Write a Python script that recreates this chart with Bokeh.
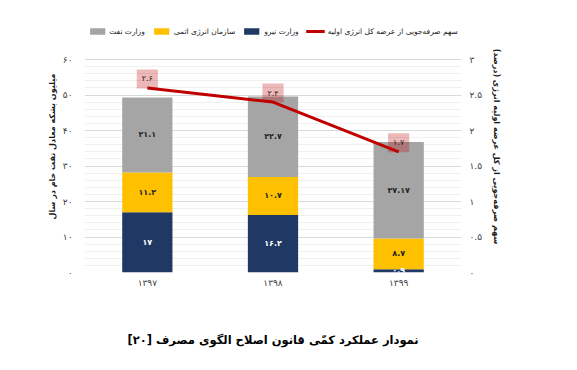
from bokeh.plotting import figure
from bokeh.models import (ColumnDataSource, LinearAxis, Range1d, FixedTicker, LabelSet,
                          Legend, LegendItem, Label)
from bokeh.core.properties import value
from bokeh.embed import file_html
from bokeh.resources import INLINE

# ---- data ----
years = ["۱۳۹۷", "۱۳۹۸", "۱۳۹۹"]
niroo = [17.0, 16.2, 0.9]          # وزارت نیرو
atomi = [11.2, 10.7, 8.7]          # سازمان انرژی اتمی
naft = [21.1, 22.7, 27.17]         # وزارت نفت
share = [2.6, 2.4, 1.7]            # سهم صرفه‌جویی
niroo_lbl = ["۱۷", "۱۶.۲", "۰.۹"]
atomi_lbl = ["۱۱.۲", "۱۰.۷", "۸.۷"]
naft_lbl = ["۲۱.۱", "۲۲.۷", "۲۷.۱۷"]
share_lbl = ["۲.۶", "۲.۴", "۱.۷"]
left_ticks = [0, 10, 20, 30, 40, 50, 60]
left_tick_lbl = ["۰", "۱۰", "۲۰", "۳۰", "۴۰", "۵۰", "۶۰"]
right_ticks = [0, 0.5, 1, 1.5, 2, 2.5, 3]
right_tick_lbl = ["۰", "۰.۵", "۱", "۱.۵", "۲", "۲.۵", "۳"]
legend_names = ["وزارت نفت", "سازمان انرژی اتمی", "وزارت نیرو",
                "سهم صرفه‌جویی از عرضه کل انرژی اولیه"]
title_text = "نمودار عملکرد کمّی قانون اصلاح الگوی مصرف [۲۰]"

FONT = "DejaVu Sans"
NAVY, YEL, GRAY, RED = "#203864", "#FFC000", "#A5A5A5", "#C00000"

# layout: frame extends above the 60-line to hold the legend
TOP, AXIS_PX = 20, 213
stretch = (AXIS_PX + 39) / AXIS_PX

xs = [1, 2, 3]
src = ColumnDataSource(dict(
    x=xs, niroo=niroo, atomi=atomi, naft=naft, share=share,
    y_n=[a / 2 for a in niroo],
    y_a=[a + b / 2 for a, b in zip(niroo, atomi)],
    y_f=[a + b + c / 2 for a, b, c in zip(niroo, atomi, naft)],
    ln=niroo_lbl, la=atomi_lbl, lf=naft_lbl, ls=share_lbl,
))

p = figure(width=561, height=354, output_backend="svg", toolbar_location=None,
           x_range=Range1d(0.5, 3.5), y_range=Range1d(0, 60 * stretch),
           min_border_left=84, min_border_right=100, min_border_top=TOP,
           min_border_bottom=82, outline_line_color=None)
p.extra_y_ranges = {"r": Range1d(0, 3 * stretch)}

bars = p.vbar_stack(["niroo", "atomi", "naft"], x="x", width=0.4, source=src,
                    color=[NAVY, YEL, GRAY], line_color=None)
ln = p.line("x", "share", source=src, y_range_name="r", line_color=RED, line_width=3)

p.xgrid.grid_line_color = None
p.ygrid.ticker = FixedTicker(ticks=left_ticks, minor_ticks=[v for v in range(0, 61, 2) if v % 10])
p.ygrid.grid_line_color = "#d9d9d9"
p.ygrid.minor_grid_line_color = "#f0f0f0"

xa = p.xaxis[0]
xa.ticker = FixedTicker(ticks=xs)
xa.bounds = (0.5, 3.33)
xa.major_label_overrides = {i: y for i, y in zip(xs, years)}
xa.axis_label = title_text
ya = p.yaxis[0]
ya.ticker = FixedTicker(ticks=left_ticks)
ya.bounds = (0, 60)
ya.major_label_overrides = {t: l for t, l in zip(left_ticks, left_tick_lbl)}
ya.axis_label = "میلیون بشکه معادل نفت خام در سال"
ra = LinearAxis(y_range_name="r", ticker=FixedTicker(ticks=right_ticks), bounds=(0, 3),
                axis_label="سهم صرفه‌جویی از کل عرضه اولیه انرژی (درصد)")
ra.major_label_overrides = {t: l for t, l in zip(right_ticks, right_tick_lbl)}
p.add_layout(ra, "right")

for ax in [xa, ya, ra]:
    ax.axis_line_color = None
    ax.major_tick_line_color = None
    ax.minor_tick_line_color = None
    ax.major_tick_out = 0
    ax.major_label_text_font = FONT
    ax.major_label_text_font_size = "9px"
    ax.major_label_text_color = "#404040"
    ax.axis_label_text_font = FONT
    ax.axis_label_text_font_size = "8px"
    ax.axis_label_text_font_style = "bold"
    ax.axis_label_text_color = "#1a1a1a"
xa.axis_label_text_font_size = "11.5px"
xa.axis_label_text_color = "#000000"
xa.major_label_standoff = 5
xa.axis_label_standoff = 42
ya.major_label_standoff = 12
ra.major_label_standoff = 8
ya.axis_label_standoff = 3
ra.axis_label_standoff = 7

for col, ycol, colr in [("ln", "y_n", "white"), ("la", "y_a", "#262626"), ("lf", "y_f", "#262626")]:
    p.add_layout(LabelSet(x="x", y=ycol, text=col, source=src, text_align="center",
                          text_baseline="middle", text_font=value(FONT),
                          text_font_size="8px", text_color=colr, text_font_style="bold"))
for xv, sv, sl in zip(xs, share, share_lbl):
    p.add_layout(Label(x=xv, y=sv, text=sl, y_range_name="r", y_offset=9,
                       text_align="center", text_baseline="middle", text_font=FONT,
                       text_font_size="8px", text_color="#262626",
                       background_fill_color=RED, background_fill_alpha=0.28, padding=5))

legend = Legend(items=[LegendItem(label=n, renderers=[r]) for n, r in
                       zip(legend_names, [bars[2], bars[1], bars[0], ln])],
                orientation="horizontal", location="top_center", padding=0, margin=6,
                spacing=7, label_standoff=3, glyph_width=19, glyph_height=8,
                label_text_font=FONT, label_text_font_size="7.5px",
                label_text_color="#1a1a1a", background_fill_alpha=0,
                border_line_color=None, label_height=10)
p.add_layout(legend, "center")

open("out.html", "w").write(file_html(p, INLINE))
